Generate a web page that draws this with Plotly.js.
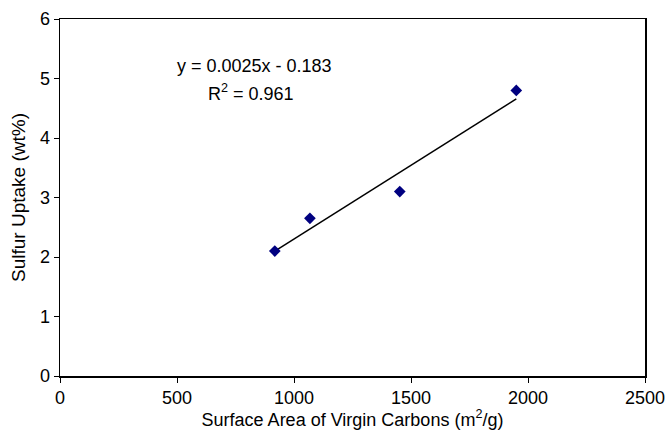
<!DOCTYPE html>
<html>
<head>
<meta charset="utf-8">
<script src="https://cdn.plot.ly/plotly-3.0.1.min.js"></script>
<style>html,body{margin:0;padding:0;background:#fff;}#chart{width:666px;height:430px;}</style>
</head>
<body>
<div id="chart"></div>
<script>
const surfaceArea = [918, 1068, 1452, 1950];
const sulfurUptake = [2.1, 2.65, 3.1, 4.8];
const xTicks = [0, 500, 1000, 1500, 2000, 2500];
const yTicks = [0, 1, 2, 3, 4, 5, 6];
const eqText = "y = 0.0025x - 0.183";
const r2Text = "R<sup>2</sup> = 0.961";

// linear regression
const n = surfaceArea.length;
const mx = surfaceArea.reduce((a,b)=>a+b,0)/n;
const my = sulfurUptake.reduce((a,b)=>a+b,0)/n;
let sxy=0, sxx=0;
for (let i=0;i<n;i++){ sxy+=(surfaceArea[i]-mx)*(sulfurUptake[i]-my); sxx+=(surfaceArea[i]-mx)**2; }
const slope = sxy/sxx, intercept = my - slope*mx;
const xMin = Math.min(...surfaceArea), xMax = Math.max(...surfaceArea);
const trendX = [xMin, xMax];
const trendY = trendX.map(x => slope*x + intercept);

const font = "Liberation Sans, Arial, sans-serif";
const data = [
  {x: trendX, y: trendY, mode: "lines", line: {color: "#000", width: 1.5}, hoverinfo: "skip"},
  {x: surfaceArea, y: sulfurUptake, mode: "markers", marker: {symbol: "diamond", size: 9, color: "#000080"}}
];
const layout = {
  width: 666, height: 430,
  margin: {l: 60, r: 21, t: 19, b: 54},
  showlegend: false,
  paper_bgcolor: "#fff", plot_bgcolor: "#fff",
  font: {family: font, color: "#000", size: 18},
  xaxis: {
    range: [0, 2500], tickvals: xTicks, ticktext: xTicks.map(String),
    showgrid: false, zeroline: false, showline: true, linecolor: "#000", linewidth: 1.5, mirror: true,
    ticks: "outside", ticklen: 5, tickcolor: "#000", tickfont: {size: 18},
    title: {text: "Surface Area of Virgin Carbons (m<sup>2</sup>/g)", font: {size: 18}, standoff: 3}
  },
  yaxis: {
    range: [0, 6], tickvals: yTicks, ticktext: yTicks.map(String),
    showgrid: false, zeroline: false, showline: true, linecolor: "#000", linewidth: 1.5, mirror: true,
    ticks: "outside", ticklen: 5, tickcolor: "#000", tickfont: {size: 18},
    title: {text: "Sulfur Uptake (wt%)", font: {size: 19}, standoff: 9}
  },
  annotations: [
    {x: 833, y: 5.21, xref: "x", yref: "y", text: eqText, showarrow: false, font: {size: 18}},
    {x: 818, y: 4.77, xref: "x", yref: "y", text: r2Text, showarrow: false, font: {size: 18}}
  ]
};
Plotly.newPlot("chart", data, layout, {staticPlot: true});
</script>
</body>
</html>
